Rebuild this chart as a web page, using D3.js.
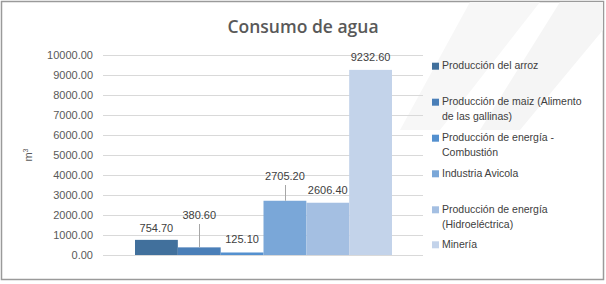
<!DOCTYPE html>
<html>
<head>
<meta charset="utf-8">
<script src="https://cdn.jsdelivr.net/npm/d3@7"></script>
<style>
  body { margin: 0; background: #fff; }
  svg { display: block; }
  text { font-family: "Liberation Sans", Arial, sans-serif; }
</style>
</head>
<body>
<svg width="606" height="284"></svg>
<script>
// chart data
var categories = ["Producción del arroz", "Producción de maiz (Alimento de las gallinas)",
    "Producción de energía - Combustión", "Industria Avicola",
    "Producción de energía (Hidroeléctrica)", "Minería"];
var legendLines = [["Producción del arroz"], ["Producción de maiz (Alimento", "de las gallinas)"],
    ["Producción de energía -", "Combustión"], ["Industria Avicola"],
    ["Producción de energía", "(Hidroeléctrica)"], ["Minería"]];
var values = [754.70, 380.60, 125.10, 2705.20, 2606.40, 9232.60];
var yTicks = [0, 1000, 2000, 3000, 4000, 5000, 6000, 7000, 8000, 9000, 10000];
var colors = ["#41709c", "#4a7fb8", "#5490cf", "#7aa7d8", "#a4bfe2", "#c3d3ea"];

var svg = d3.select("svg");

// frame + faint background streaks
svg.append("rect").attr("x", 1.5).attr("y", 1.5).attr("width", 602).attr("height", 278)
    .attr("fill", "#fff").attr("stroke", "#9a9a9a").attr("stroke-width", 1.5);
svg.append("polygon").attr("points", "470,2 540,2 440,130 400,130").attr("fill", "#f7f7f7");
svg.append("polygon").attr("points", "560,2 603,2 603,30 520,130 480,130").attr("fill", "#f5f5f5");

var x0 = 103, x1 = 423;
var y = d3.scaleLinear().domain([0, 10000]).range([255, 54.5]);
var x = d3.scaleBand().domain(d3.range(values.length)).range([135, 392]);

// gridlines
svg.append("g").selectAll("line").data(yTicks).enter().append("line")
    .attr("x1", x0).attr("x2", x1)
    .attr("y1", d => Math.round(y(d)) + 0.5).attr("y2", d => Math.round(y(d)) + 0.5)
    .attr("stroke", "#d9d9d9").attr("stroke-width", 1);

// y axis labels
var yAxis = d3.axisLeft(y).tickValues(yTicks).tickFormat(d3.format(".2f")).tickSize(0).tickPadding(0);
var ya = svg.append("g").attr("transform", "translate(93,0)").call(yAxis);
ya.select(".domain").remove();
ya.selectAll("text").attr("fill", "#595959").style("font-size", "11px")
    .style("font-family", "Liberation Sans, Arial, sans-serif");

// bars
svg.append("g").selectAll("rect").data(values).enter().append("rect")
    .attr("x", (d, i) => x(i))
    .attr("width", x.bandwidth())
    .attr("y", d => y(d))
    .attr("height", d => y(0) - y(d))
    .attr("fill", (d, i) => colors[i]);

// data labels (some lifted with leader lines)
var labelY = [228, 215, 239, 176, 190, 57];
var leaders = [1, 3];  // indexes of labels with a leader line
svg.append("g").selectAll("line").data(leaders).enter().append("line")
    .attr("x1", i => Math.round(x(i) + x.bandwidth() / 2) + 0.5)
    .attr("x2", i => Math.round(x(i) + x.bandwidth() / 2) + 0.5)
    .attr("y1", i => labelY[i] + 9)
    .attr("y2", i => y(values[i]))
    .attr("stroke", "#a6a6a6").attr("stroke-width", 1);
svg.append("g").selectAll("text").data(values).enter().append("text")
    .attr("x", (d, i) => x(i) + x.bandwidth() / 2)
    .attr("y", (d, i) => labelY[i])
    .attr("dy", "0.35em")
    .attr("text-anchor", "middle")
    .attr("fill", "#404040")
    .style("font-size", "11px")
    .text(d => d3.format(".2f")(d));

// title
svg.append("text").attr("x", 303).attr("y", 33).attr("text-anchor", "middle")
    .attr("fill", "#595959").style("font-family", "Open Sans, sans-serif")
    .style("font-size", "17.5px").style("font-weight", "600")
    .text("Consumo de agua");

// axis title
svg.append("text").attr("transform", "translate(32,155) rotate(-90)")
    .attr("text-anchor", "middle").attr("fill", "#595959").style("font-size", "11px")
    .text("m").append("tspan").attr("dy", "-4").style("font-size", "7px").text("3");

// legend
var legendY = [65.7, 101.7, 137.7, 173.3, 209.3, 244.3];
var lg = svg.append("g").selectAll("g").data(categories).enter().append("g")
    .attr("transform", (d, i) => "translate(432," + legendY[i] + ")");
lg.append("rect").attr("x", 0).attr("y", -3).attr("width", 7).attr("height", 7)
    .attr("fill", (d, i) => colors[i]);
lg.each(function(d, i) {
    var t = d3.select(this).append("text").attr("x", 10).attr("y", 0)
        .attr("fill", "#404040").style("font-size", "10.5px");
    legendLines[i].forEach(function(line, k) {
        t.append("tspan").attr("x", 10).attr("y", k * 15).attr("dy", "0.35em").text(line);
    });
});
</script>
</body>
</html>
